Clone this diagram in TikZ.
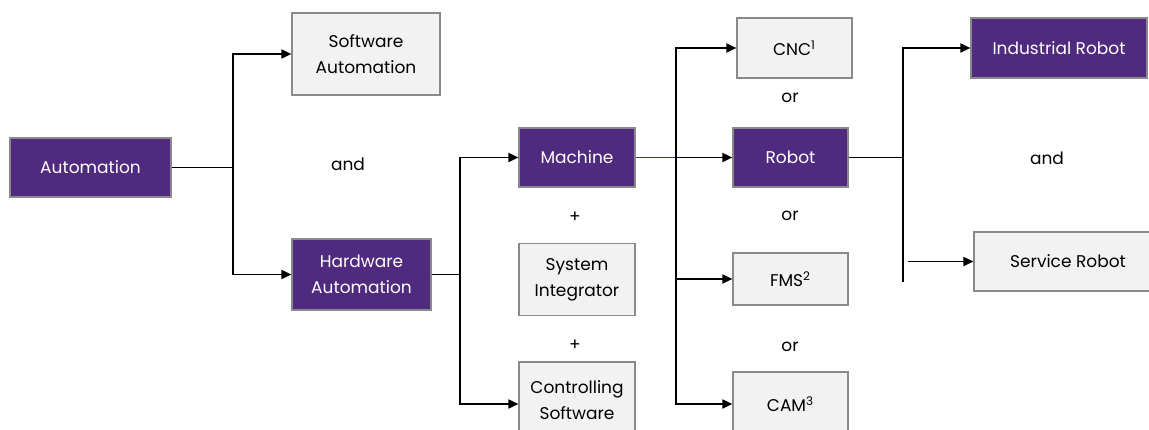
\documentclass[tikz,border=0pt]{standalone}
\usepackage{fontspec}
\setmainfont{Poppins}
\usetikzlibrary{arrows.meta}
\definecolor{violet}{RGB}{79,42,127}
\definecolor{paper}{RGB}{242,242,242}
\definecolor{rim}{RGB}{138,138,138}

\begin{document}
\begin{tikzpicture}[x=0.5pt, y=-0.5pt, >={Triangle[length=5pt,width=4.5pt]},
  every node/.style={font=\fontsize{8.5}{13}\selectfont, align=center, inner sep=0pt},
  dark/.style={draw=rim, line width=0.6pt, fill=violet, text=white},
  light/.style={draw=rim, line width=0.6pt, fill=paper},
  link/.style={line width=0.9pt}]
\useasboundingbox (0,0) rectangle (1149,429);

\node[dark, minimum width=80.5pt, minimum height=29.5pt] (auto) at (90.5,167.5) {Automation};
\node[light, minimum width=74pt, minimum height=41pt] (soft) at (366,54) {Software\\Automation};
\node[dark, minimum width=69.5pt, minimum height=35.5pt] (hard) at (361.5,274.5) {Hardware\\Automation};
\node[dark, minimum width=58pt, minimum height=29.5pt] (mach) at (577,157.5) {Machine};
\node[light, minimum width=58pt, minimum height=36pt] (sysi) at (577,279.5) {System\\Integrator};
\node[light, minimum width=58pt, minimum height=38pt] (ctrl) at (577,400) {Controlling\\Software};
\node[light, minimum width=57.5pt, minimum height=30pt] (cnc) at (794.5,48) {CNC\textsuperscript{1}};
\node[dark, minimum width=57.5pt, minimum height=29.5pt] (robot) at (790.5,157.5) {Robot};
\node[light, minimum width=57.5pt, minimum height=26pt] (fms) at (790.5,279) {FMS\textsuperscript{2}};
\node[light, minimum width=57.5pt, minimum height=32pt] (cam) at (790.5,404) {CAM\textsuperscript{3}};
\node[dark, minimum width=88pt, minimum height=30pt] (ind) at (1059,48) {Industrial Robot};
\node[light, minimum width=94pt, minimum height=29.5pt] (serv) at (1068,261.5) {Service Robot};

\node (and1) at (348,164) {and};
\node (plus1) at (575,217) {+};
\node (plus2) at (575,345) {+};
\node (or1) at (790,98) {or};
\node (or2) at (790,216) {or};
\node (or3) at (790,347) {or};
\node (and2) at (1047,158) {and};

% branch points
\coordinate (j1) at (233,167.5);
\coordinate (j2) at (460,274.5);
\coordinate (j3) at (676,157.5);
\coordinate (j4) at (903,157.5);
\coordinate (j4end) at (903,282);
\coordinate (sstart) at (908,261.5);

\draw[link] (auto) -- (j1);
\draw[link, ->] (j1) |- (soft);
\draw[link, ->] (j1) |- (hard);

\draw[link] (hard) -- (j2);
\draw[link, ->] (j2) |- (mach);
\draw[link, ->] (j2) |- ([yshift=-2pt]ctrl.west);

\draw[violet, line width=0.6pt] (mach) -- (j3);
\draw[link, ->] (j3) -- (robot);
\draw[link, ->] (j3) |- (cnc);
\draw[link, ->] (j3) |- (fms);
\draw[link, ->] (j3) |- (cam);

\draw[link] (robot) -- (j4);
\draw[link, ->] (j4end) |- (ind);
\draw[link, ->] (sstart) -- (serv);
\end{tikzpicture}
\end{document}
